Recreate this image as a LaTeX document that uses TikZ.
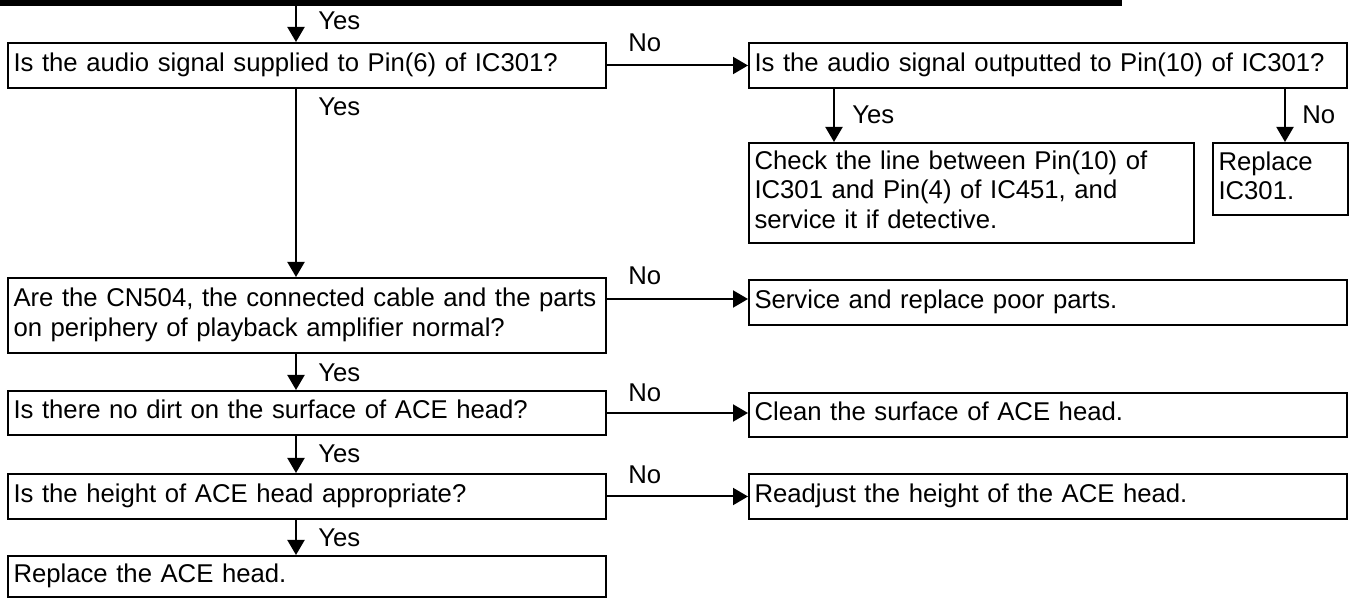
\documentclass[tikz,border=0pt]{standalone}
\usepackage{fontspec}
\setmainfont{Liberation Sans}
\usetikzlibrary{arrows.meta,calc}
\begin{document}
\begin{tikzpicture}[x=0.5pt,y=-0.5pt,
  every node/.style={font=\fontsize{12.85pt}{14.75pt}\selectfont},
  box/.style={draw, line width=1pt, anchor=north west, align=left,
    inner xsep=2.75pt, inner ysep=0pt,
    execute at begin node=\strut, execute at end node=\strut},
  wide/.style={box, text width=293.5pt},
  arr/.style={line width=1pt, -{Triangle[length=7.5pt,width=8.5pt]}},
  tag/.style={anchor=base west, inner sep=0pt}]
\useasboundingbox (0,0) rectangle (1351,598);

% heavy rule closing the previous step
\node[fill=black, inner sep=0pt, outer sep=0pt, anchor=north west,
  minimum width=561pt, minimum height=3pt] (bar) at (0,0) {};

% question boxes of the main column
\node[wide, minimum height=22.5pt] (q1) at (7,42) {Is the audio signal supplied to Pin(6) of IC301?};
\node[wide, minimum height=37.5pt] (q3) at (7,277) {\mbox{Are the CN504, the connected cable and the parts}\\on periphery of playback amplifier normal?};
\node[wide, minimum height=22pt] (q4) at (7,390) {Is there no dirt on the surface of ACE head?};
\node[wide, minimum height=22.5pt] (q5) at (7,473) {Is the height of ACE head appropriate?};
\node[wide, minimum height=20.5pt] (fin) at (7,555) {Replace the ACE head.};

% right-hand branch
\node[wide, minimum height=22.5pt] (q2) at (748,42) {\mbox{Is the audio signal outputted to Pin(10) of IC301?}};
\node[box, text width=217pt, minimum height=50pt] (chk) at (748,142) {Check the line between Pin(10) of\\IC301 and Pin(4) of IC451, and\\service it if detective.};
\node[box, text width=62pt, minimum height=36pt] (rep) at (1212,142) {Replace\\IC301.};
\node[wide, minimum height=22.5pt] (svc) at (748,279) {Service and replace poor parts.};
\node[wide, minimum height=22pt] (cln) at (748,392) {Clean the surface of ACE head.};
\node[wide, minimum height=22.5pt] (rdj) at (748,473) {Readjust the height of the ACE head.};

% vertical guide columns for the connectors
\coordinate (cx) at (296,0);
\coordinate (yx) at (834,0);
\coordinate (nx) at (1285,0);

% connectors
\draw[arr] (bar.south -| cx) -- (q1.north -| cx);
\draw[arr] (q1.east) -- (q2.west);
\draw[arr] (q2.south -| yx) -- (chk.north -| yx);
\draw[arr] (q2.south -| nx) -- (rep.north -| nx);
\draw[arr] (q1.south -| cx) -- (q3.north -| cx);
\draw[arr] ($(svc.west -| q3.east)+(0,-3.5)$) -- ($(svc.west)+(0,-3.5)$);
\draw[arr] (q3.south -| cx) -- (q4.north -| cx);
\draw[arr] (q4.east) -- (q4.east -| cln.west);
\draw[arr] (q4.south -| cx) -- (q5.north -| cx);
\draw[arr] (q5.east) -- (q5.east -| rdj.west);
\draw[arr] (q5.south -| cx) -- (fin.north -| cx);

% branch labels
\node[tag] (y1) at (318,29.4) {Yes};
\node[tag] (n1) at (628,51.4) {No};
\node[tag] (y2) at (318,115.4) {Yes};
\node[tag] (y2r) at (852,123.4) {Yes};
\node[tag] (n2r) at (1302,123.4) {No};
\node[tag] (n3) at (628,284.4) {No};
\node[tag] (y3) at (318,381.4) {Yes};
\node[tag] (n4) at (628,401.4) {No};
\node[tag] (y4) at (318,462.4) {Yes};
\node[tag] (n5) at (628,483.4) {No};
\node[tag] (y5) at (318,546.4) {Yes};
\end{tikzpicture}
\end{document}
